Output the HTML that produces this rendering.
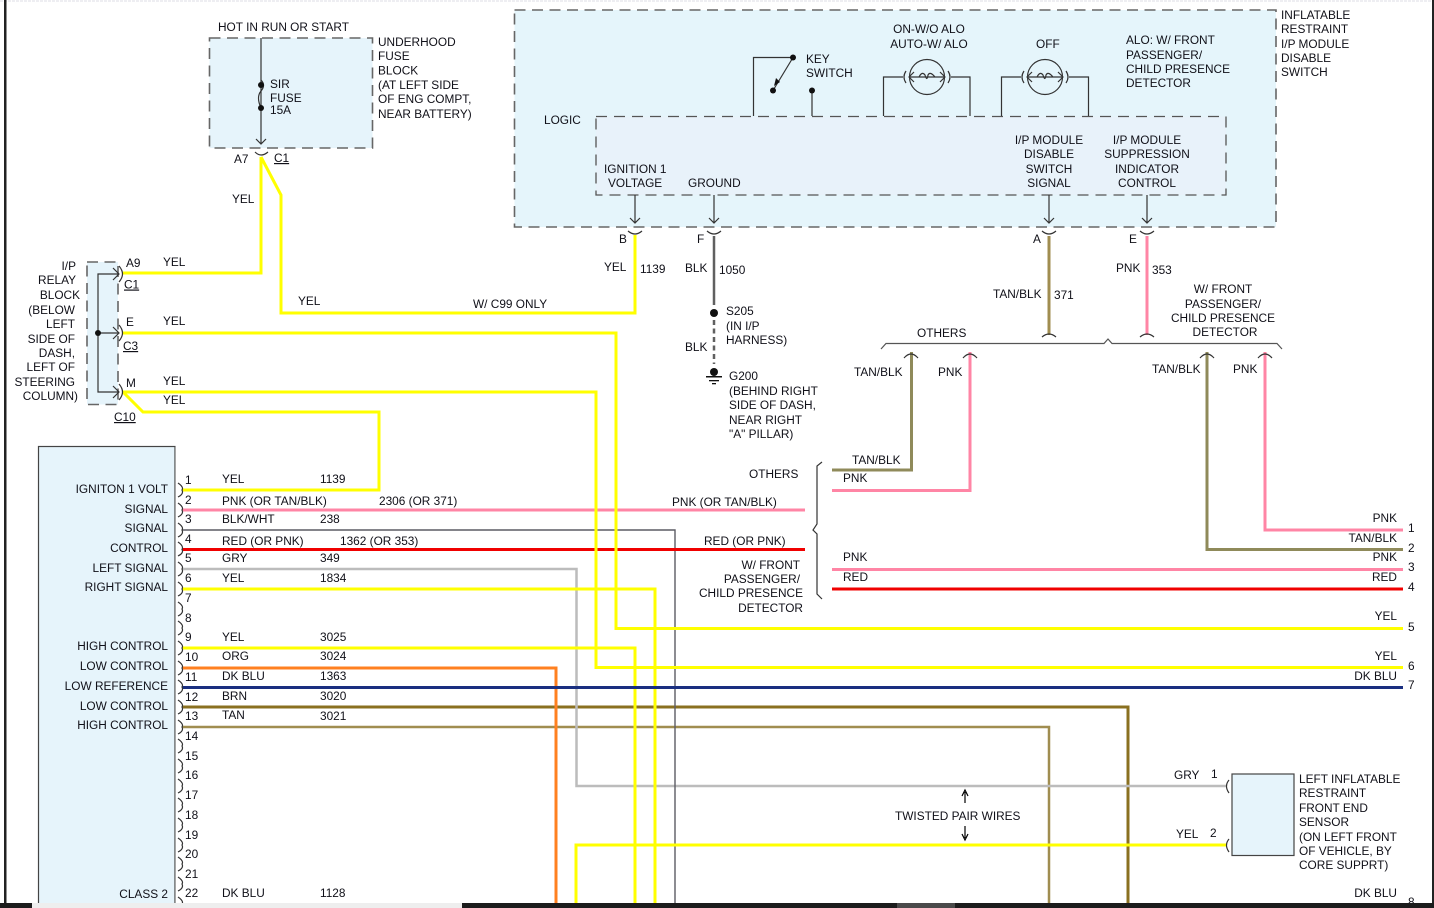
<!DOCTYPE html>
<html><head><meta charset="utf-8"><style>
html,body{margin:0;padding:0;background:#fff;width:1434px;height:908px;overflow:hidden}
svg{display:block}
text{font-family:"Liberation Sans",sans-serif;font-size:11.85px;fill:#101018}
.e{text-anchor:end}.m{text-anchor:middle}
.w{fill:none;stroke-width:3;stroke-linejoin:miter}
.t{fill:none;stroke:#333;stroke-width:1.2}
.d{fill:none;stroke:#666;stroke-width:1.6;stroke-dasharray:11 6.5}
</style></head><body>
<svg width="1434" height="908" viewBox="0 0 1434 908" xmlns="http://www.w3.org/2000/svg">
<rect width="1434" height="908" fill="#fff"/>
<line x1="0" y1="1" x2="1434" y2="1" stroke="#dcdce4" stroke-dasharray="3 1"/>
<rect x="4" y="0" width="2.5" height="908" fill="#222"/>
<rect x="1432" y="0" width="2" height="908" fill="#222"/>

<!-- boxes -->
<rect x="209.5" y="38" width="163" height="110" class="d" style="fill:#e6f4fb"/>
<rect x="87" y="262" width="31" height="142.500" class="d" style="fill:#e6f4fb"/>
<rect x="514.5" y="10" width="761.500" height="217" class="d" style="fill:#e5f5fb"/>
<rect x="596" y="116.500" width="630" height="78.500" style="fill:#e8f2fa;stroke:#555;stroke-width:1.3;stroke-dasharray:11 7"/>
<rect x="38.500" y="446.500" width="136.500" height="470" fill="#e6f4fb" stroke="#444" stroke-width="1.2"/>
<rect x="175" y="446.500" width="0.800" height="470" fill="#999"/>
<rect x="1232" y="774" width="62" height="81.500" fill="#e6f4fb" stroke="#444" stroke-width="1.2"/>

<!-- wires -->
<path class="w" style="stroke-width:2.5" stroke="#a08d50" d="M182 727H1049V903"/>
<path class="w" stroke="#8a7020" d="M182 707H1128V903"/>
<path class="w" stroke="#ff8020" d="M182 668H556V903"/>
<path class="w" style="stroke-width:2.5" stroke="#bcbcbc" d="M182 569H576.500V786H1226"/>
<path fill="none" stroke="#5c5c64" stroke-width="1.4" d="M182 530H675V903"/>
<path class="w" stroke="#ff85a5" d="M182 510H805"/>
<path class="w" stroke="#f00000" d="M182 549.500H805"/>
<path class="w" stroke="#ffff00" d="M123 273H261V157M261 157L281 195V313H635V235"/>
<path class="w" stroke="#ffff00" d="M123 333H616V628.500H1403"/>
<path class="w" stroke="#ffff00" d="M123 392H596V667.500H1403"/>
<path class="w" stroke="#ffff00" d="M123 392L143 412H379V490H182"/>
<path class="w" stroke="#ffff00" d="M182 589H655V903"/>
<path class="w" stroke="#ffff00" d="M182 648H635V903"/>
<path class="w" stroke="#ffff00" d="M576 903V845H1226"/>
<path class="w" stroke="#1a2f80" d="M182 687.500H1403"/>
<path class="w" stroke="#a08d50" d="M1049 236V335"/>
<path class="w" stroke="#ff85a5" d="M1147 236V335"/>
<path class="w" stroke="#8f8a5a" d="M911.500 352V470H832"/>
<path class="w" stroke="#ff85a5" d="M970 352V490.500H832"/>
<path class="w" stroke="#8f8a5a" d="M1207 352V549.500H1403"/>
<path class="w" stroke="#ff85a5" d="M1265 352V530H1403"/>
<path class="w" stroke="#ff85a5" d="M832 569.500H1403"/>
<path class="w" stroke="#f00000" d="M832 589H1403"/>
<path fill="none" stroke="#606060" stroke-width="2.5" d="M714 236V305"/>
<path fill="none" stroke="#606060" stroke-width="2.5" stroke-dasharray="5 3.500" d="M714 320V364"/>

<!-- thin lines -->
<g class="t" style="fill:none;stroke:#333;stroke-width:1.2">
<path d="M261 38V144M256 139L261 144L266 139"/>
<path d="M255 152Q261 158 268 152"/>
<path d="M261 80Q266 85 261 91Q256 97 261 108" />
<path d="M118 274H98V392H118M98 333H118"/>
<path d="M113 268L119 274L113 280M113 327L119 333L113 339M113 386L119 392L113 398"/>
<path d="M119 266Q126 274 119 282M119 325Q126 333 119 341M119 384Q126 392 119 400"/>
<path d="M635 195V223M630 218L635 223L640 218M628 231Q635 237 642 231"/>
<path d="M714 195V223M709 218L714 223L719 218M707 231Q714 237 721 231"/>
<path d="M1049 195V223M1044 218L1049 223L1054 218M1042 231Q1049 237 1056 231"/>
<path d="M1147 195V223M1142 218L1147 223L1152 218M1140 231Q1147 237 1154 231"/>
<path d="M753.500 116V57.500H793M793 57.500L773 90.500M812 90V116"/>
<path d="M883.500 116V77H903M970 116V77H951"/>
<circle cx="927" cy="77" r="17.500"/>
<path d="M909 77H945M914 72L909 77L914 82M940 72L945 77L940 82M919 77Q922 71 925 75Q927 82 928 75Q930 71 935 77"/>
<path d="M906 71Q902 77 906 83M948 71Q952 77 948 83"/>
<path d="M1001.500 116V77H1021M1088.500 116V77H1069"/>
<circle cx="1045" cy="77" r="17.500"/>
<path d="M1027 77H1063M1032 72L1027 77L1032 82M1058 72L1063 77L1058 82M1037 77Q1040 71 1043 75Q1045 82 1046 75Q1048 71 1053 77"/>
<path d="M1024 71Q1020 77 1024 83M1066 71Q1070 77 1066 83"/>
<path d="M881 349L886 343.500H1104L1108 339L1112 343.500H1277L1282 349" stroke="#555"/>
<path d="M1042 337Q1049 331 1056 337M1140 337Q1147 331 1154 337"/>
<path d="M904 358Q911 350 918 358M963 358Q970 350 977 358M1200 358Q1207 350 1214 358M1258 358Q1265 350 1272 358"/>
<path d="M822 462L817 466V524L813 530L817 534V594L822 599"/>
<path d="M1229 780Q1224 786 1229 793M1229 839Q1224 845 1229 852"/>
<path d="M965 803V792M962 796L965 790L968 796M965 826V838M962 834L965 840L968 834" stroke="#000"/>
<path d="M178 483Q184 487 182 490Q184 494 178 497M178 503Q184 507 182 510Q184 514 178 517M178 523Q184 527 182 530Q184 534 178 537M178 542Q184 546 182 549.500Q184 553 178 556M178 562Q184 566 182 569Q184 573 178 576M178 582Q184 586 182 589Q184 593 178 596M178 602Q184 606 182 609Q184 613 178 616M178 621Q184 625 182 628Q184 632 178 635M178 641Q184 645 182 648Q184 652 178 655M178 661Q184 665 182 668Q184 672 178 675M178 680Q184 684 182 687Q184 691 178 694M178 700Q184 704 182 707Q184 711 178 714M178 720Q184 724 182 727Q184 731 178 734M178 739Q184 743 182 746Q184 750 178 753M178 759Q184 763 182 766Q184 770 178 773M178 779Q184 783 182 786Q184 790 178 793M178 798Q184 802 182 805Q184 809 178 812M178 818Q184 822 182 825Q184 829 178 832M178 838Q184 842 182 845Q184 849 178 852M178 857Q184 861 182 864Q184 868 178 871M178 877Q184 881 182 884Q184 888 178 891M178 897Q184 901 182 904"/>
</g>
<g fill="#111">
<circle cx="261" cy="85" r="3"/><circle cx="261" cy="108" r="3"/>
<circle cx="98" cy="333" r="3"/>
<circle cx="793" cy="57.500" r="3"/><circle cx="773" cy="90.500" r="3"/><circle cx="812" cy="90.500" r="3"/>
<path d="M774 86L780 82L776 78Z"/>
<circle cx="714" cy="313" r="4"/><circle cx="714" cy="372" r="4"/>
<rect x="706" y="376" width="16" height="1.500"/>
<rect x="709" y="380" width="10" height="1.300"/>
<rect x="712" y="383" width="4" height="1.300"/>
</g>

<!-- labels top-left -->
<text x="218" y="31">HOT IN RUN OR START</text>
<text x="378" y="46">UNDERHOOD</text><text x="378" y="60">FUSE</text><text x="378" y="74.500">BLOCK</text>
<text x="378" y="89">(AT LEFT SIDE</text><text x="378" y="103">OF ENG COMPT,</text><text x="378" y="118">NEAR BATTERY)</text>
<text x="270" y="88">SIR</text><text x="270" y="102">FUSE</text><text x="270" y="114">15A</text>
<text x="234" y="163">A7</text><text x="274" y="162" text-decoration="underline">C1</text>
<text x="232" y="203">YEL</text>
<text class="e" x="76" y="270">I/P</text><text class="e" x="76" y="284">RELAY</text><text class="e" x="80" y="299">BLOCK</text>
<text class="e" x="75" y="314">(BELOW</text><text class="e" x="75" y="328">LEFT</text><text class="e" x="75" y="343">SIDE OF</text>
<text class="e" x="75" y="357">DASH,</text><text class="e" x="75" y="371">LEFT OF</text><text class="e" x="75" y="386">STEERING</text><text class="e" x="78" y="400">COLUMN)</text>
<text x="126" y="267">A9</text><text x="124" y="288.500" text-decoration="underline">C1</text><text x="163" y="266">YEL</text>
<text x="126" y="326">E</text><text x="123" y="350" text-decoration="underline">C3</text><text x="163" y="325">YEL</text>
<text x="126" y="387">M</text><text x="163" y="385">YEL</text><text x="163" y="404">YEL</text><text x="114" y="421" text-decoration="underline">C10</text>
<text x="298" y="305">YEL</text><text x="473" y="308">W/ C99 ONLY</text>

<!-- module labels -->
<text class="e" x="168" y="493">IGNITON 1 VOLT</text><text class="e" x="168" y="513">SIGNAL</text><text class="e" x="168" y="532">SIGNAL</text>
<text class="e" x="168" y="552">CONTROL</text><text class="e" x="168" y="572">LEFT SIGNAL</text><text class="e" x="168" y="591">RIGHT SIGNAL</text>
<text class="e" x="168" y="650">HIGH CONTROL</text><text class="e" x="168" y="670">LOW CONTROL</text><text class="e" x="168" y="690">LOW REFERENCE</text>
<text class="e" x="168" y="710">LOW CONTROL</text><text class="e" x="168" y="729">HIGH CONTROL</text>
<text class="e" x="168" y="898">CLASS 2</text><text class="e" x="168" y="912">SERIAL DATA</text>

<!-- pin numbers -->
<text x="185" y="484">1</text><text x="185" y="504">2</text><text x="185" y="523">3</text><text x="185" y="543">4</text><text x="185" y="562">5</text><text x="185" y="582">6</text><text x="185" y="602">7</text><text x="185" y="622">8</text><text x="185" y="641">9</text>
<text x="185" y="661">10</text><text x="185" y="681">11</text><text x="185" y="701">12</text><text x="185" y="720">13</text><text x="185" y="740">14</text><text x="185" y="760">15</text><text x="185" y="779">16</text><text x="185" y="799">17</text><text x="185" y="819">18</text><text x="185" y="839">19</text><text x="185" y="858">20</text><text x="185" y="878">21</text><text x="185" y="897">22</text>

<!-- wire labels -->
<text x="222" y="483">YEL</text><text x="320" y="483">1139</text>
<text x="222" y="505">PNK (OR TAN/BLK)</text><text x="379" y="505">2306 (OR 371)</text>
<text x="222" y="523">BLK/WHT</text><text x="320" y="523">238</text>
<text x="222" y="545">RED (OR PNK)</text><text x="340" y="545">1362 (OR 353)</text>
<text x="222" y="562">GRY</text><text x="320" y="562">349</text>
<text x="222" y="582">YEL</text><text x="320" y="582">1834</text>
<text x="222" y="641">YEL</text><text x="320" y="641">3025</text>
<text x="222" y="660">ORG</text><text x="320" y="660">3024</text>
<text x="222" y="680">DK BLU</text><text x="320" y="680">1363</text>
<text x="222" y="700">BRN</text><text x="320" y="700">3020</text>
<text x="222" y="719">TAN</text><text x="320" y="720">3021</text>
<text x="222" y="897">DK BLU</text><text x="320" y="897">1128</text>

<!-- middle labels -->
<text x="672" y="506">PNK (OR TAN/BLK)</text><text x="704" y="545">RED (OR PNK)</text>
<text class="e" x="800" y="569">W/ FRONT</text><text class="e" x="800" y="583">PASSENGER/</text><text class="e" x="803" y="597">CHILD PRESENCE</text><text class="e" x="803" y="612">DETECTOR</text>
<text x="749" y="478">OTHERS</text>
<text x="852" y="464">TAN/BLK</text><text x="843" y="482">PNK</text><text x="843" y="561">PNK</text><text x="843" y="581">RED</text>

<!-- right labels -->
<text class="e" x="1397" y="522">PNK</text><text class="e" x="1397" y="542">TAN/BLK</text><text class="e" x="1397" y="561">PNK</text><text class="e" x="1397" y="581">RED</text>
<text class="e" x="1397" y="620">YEL</text><text class="e" x="1397" y="660">YEL</text><text class="e" x="1397" y="680">DK BLU</text><text class="e" x="1397" y="897">DK BLU</text>
<text x="1408" y="532">1</text><text x="1408" y="552">2</text><text x="1408" y="571">3</text><text x="1408" y="591">4</text><text x="1408" y="631">5</text><text x="1408" y="670">6</text><text x="1408" y="689">7</text><text x="1408" y="906">8</text>

<text x="917" y="337">OTHERS</text>
<text x="854" y="376">TAN/BLK</text><text x="938" y="376">PNK</text><text x="1152" y="373">TAN/BLK</text><text x="1233" y="373">PNK</text>
<text x="993" y="298">TAN/BLK</text><text x="1054" y="299">371</text>
<text x="1116" y="272">PNK</text><text x="1152" y="274">353</text>
<text class="m" x="1223" y="293">W/ FRONT</text><text class="m" x="1223" y="308">PASSENGER/</text><text class="m" x="1223" y="322">CHILD PRESENCE</text><text class="m" x="1225" y="336">DETECTOR</text>
<text x="1033" y="243">A</text><text x="1129" y="243">E</text><text x="619" y="243">B</text><text x="697" y="243">F</text>
<text x="604" y="271">YEL</text><text x="640" y="273">1139</text><text x="685" y="272">BLK</text><text x="719" y="274">1050</text>
<text x="726" y="315">S205</text><text x="726" y="330">(IN I/P</text><text x="726" y="344">HARNESS)</text><text x="685" y="351">BLK</text>
<text x="729" y="380">G200</text><text x="729" y="395">(BEHIND RIGHT</text><text x="729" y="409">SIDE OF DASH,</text><text x="729" y="424">NEAR RIGHT</text><text x="729" y="438">"A" PILLAR)</text>

<!-- top box -->
<text x="544" y="124">LOGIC</text>
<text x="604" y="173">IGNITION 1</text><text x="608" y="187">VOLTAGE</text><text x="688" y="187">GROUND</text>
<text class="m" x="1049" y="144">I/P MODULE</text><text class="m" x="1049" y="158">DISABLE</text><text class="m" x="1049" y="173">SWITCH</text><text class="m" x="1049" y="187">SIGNAL</text>
<text class="m" x="1147" y="144">I/P MODULE</text><text class="m" x="1147" y="158">SUPPRESSION</text><text class="m" x="1147" y="173">INDICATOR</text><text class="m" x="1147" y="187">CONTROL</text>
<text class="m" x="929" y="33">ON-W/O ALO</text><text class="m" x="929" y="48">AUTO-W/ ALO</text><text x="1036" y="48">OFF</text>
<text x="1126" y="44">ALO: W/ FRONT</text><text x="1126" y="59">PASSENGER/</text><text x="1126" y="73">CHILD PRESENCE</text><text x="1126" y="87">DETECTOR</text>
<text x="806" y="63">KEY</text><text x="806" y="77">SWITCH</text>
<text x="1281" y="19">INFLATABLE</text><text x="1281" y="33">RESTRAINT</text><text x="1281" y="48">I/P MODULE</text><text x="1281" y="62">DISABLE</text><text x="1281" y="76">SWITCH</text>

<!-- sensor -->
<text x="1174" y="779">GRY</text><text x="1211" y="778">1</text><text x="1176" y="838">YEL</text><text x="1210" y="837">2</text>
<text x="1299" y="783">LEFT INFLATABLE</text><text x="1299" y="797">RESTRAINT</text><text x="1299" y="812">FRONT END</text><text x="1299" y="826">SENSOR</text>
<text x="1299" y="841">(ON LEFT FRONT</text><text x="1299" y="855">OF VEHICLE, BY</text><text x="1299" y="869">CORE SUPPRT)</text>
<text x="895" y="820">TWISTED PAIR WIRES</text>

<!-- bottom bar -->
<rect x="0" y="903" width="1434" height="5" fill="#1c1c1c"/>
<rect x="32" y="903" width="430" height="5" fill="#eeeeee"/>
<rect x="897" y="903" width="58" height="5" fill="#4a4a4a"/>
</svg>
</body></html>
